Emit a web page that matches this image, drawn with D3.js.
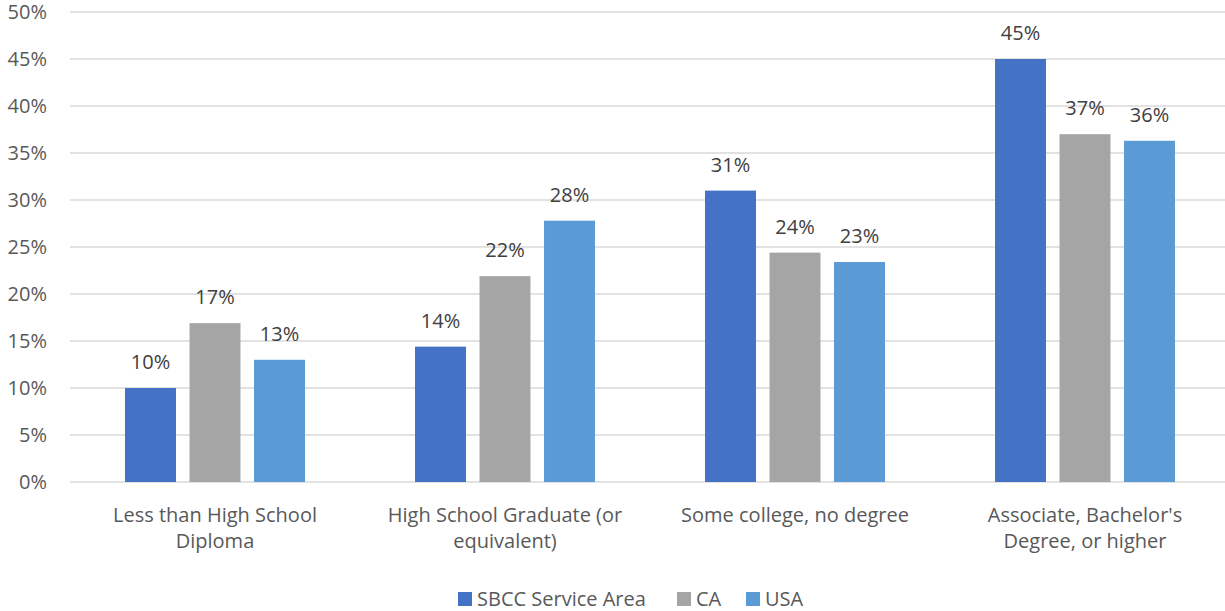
<!DOCTYPE html>
<html>
<head>
<meta charset="utf-8">
<script src="https://cdn.jsdelivr.net/npm/d3@7"></script>
<style>
  body { margin: 0; background: #fff; }
  svg { display: block; }
</style>
</head>
<body>
<svg id="chart" width="1225" height="611"></svg>
<script>
const categories = [
    ["Less than High School", "Diploma"],
    ["High School Graduate (or", "equivalent)"],
    ["Some college, no degree"],
    ["Associate, Bachelor's", "Degree, or higher"]
];
const seriesNames = ["SBCC Service Area", "CA", "USA"];
const sbcc = [10.0, 14.4, 31.0, 45.0];
const ca = [16.9, 21.9, 24.4, 37.0];
const usa = [13.0, 27.8, 23.4, 36.3];
const yTicks = [0, 5, 10, 15, 20, 25, 30, 35, 40, 45, 50];
const colors = ["#4472C4", "#A5A5A5", "#5B9BD5"];

const series = [sbcc, ca, usa];
const font = "'Open Sans', sans-serif";
const fs = 20;

const svg = d3.select("#chart");
const margin = { left: 70, right: -5, top: 12, bottom: 129 };
const width = 1225 - margin.left - margin.right;
const height = 611 - margin.top - margin.bottom;

const g = svg.append("g")
    .attr("transform", `translate(${margin.left},${margin.top})`)
    .attr("font-family", font);

const y = d3.scaleLinear().domain([0, 50]).range([height, 0]);
const x0 = d3.scaleBand().domain(d3.range(categories.length)).range([0, width]).padding(0);
const x1 = d3.scaleBand().domain(d3.range(series.length))
    .range([0, x0.bandwidth()]).paddingInner(0.21).paddingOuter(0.853);

// gridlines
g.append("g")
    .selectAll("line")
    .data(yTicks)
    .join("line")
    .attr("x1", 0)
    .attr("x2", width)
    .attr("y1", d => y(d))
    .attr("y2", d => y(d))
    .attr("stroke", "#d9d9d9")
    .attr("stroke-width", 1.5);

// y axis labels
g.append("g")
    .selectAll("text")
    .data(yTicks)
    .join("text")
    .attr("x", -23)
    .attr("y", d => y(d))
    .attr("dy", "0.35em")
    .attr("text-anchor", "end")
    .attr("font-size", fs)
    .attr("fill", "#595959")
    .text(d => d + "%");

// bars
const groups = g.append("g")
    .selectAll("g")
    .data(categories.map((c, i) => i))
    .join("g")
    .attr("transform", i => `translate(${x0(i)},0)`);

groups.selectAll("rect")
    .data(i => series.map((s, j) => ({ j, v: s[i] })))
    .join("rect")
    .attr("x", d => x1(d.j))
    .attr("width", x1.bandwidth())
    .attr("y", d => y(d.v))
    .attr("height", d => height - y(d.v))
    .attr("fill", d => colors[d.j]);

groups.selectAll("text")
    .data(i => series.map((s, j) => ({ j, v: s[i] })))
    .join("text")
    .attr("x", d => x1(d.j) + x1.bandwidth() / 2)
    .attr("y", d => y(d.v) - 19)
    .attr("text-anchor", "middle")
    .attr("font-size", fs)
    .attr("fill", "#404040")
    .text(d => Math.round(d.v) + "%");

// category labels
g.append("g")
    .selectAll("text")
    .data(categories)
    .join("text")
    .attr("x", (d, i) => x0(i) + x0.bandwidth() / 2)
    .attr("y", height + 40)
    .attr("text-anchor", "middle")
    .attr("font-size", fs)
    .attr("fill", "#595959")
    .selectAll("tspan")
    .data(d => d)
    .join("tspan")
    .attr("x", function () { return this.parentNode.getAttribute("x"); })
    .attr("dy", (d, k) => k === 0 ? 0 : 26)
    .text(d => d);

// legend
const legendX = [458, 677, 746];
const legend = svg.append("g")
    .attr("font-family", font)
    .selectAll("g")
    .data(seriesNames)
    .join("g")
    .attr("transform", (d, i) => `translate(${legendX[i]},592)`);

legend.append("rect")
    .attr("width", 14)
    .attr("height", 14)
    .attr("fill", (d, i) => colors[i]);

legend.append("text")
    .attr("x", 19)
    .attr("y", 7)
    .attr("dy", "0.35em")
    .attr("font-size", fs)
    .attr("fill", "#595959")
    .text(d => d);
</script>
</body>
</html>
